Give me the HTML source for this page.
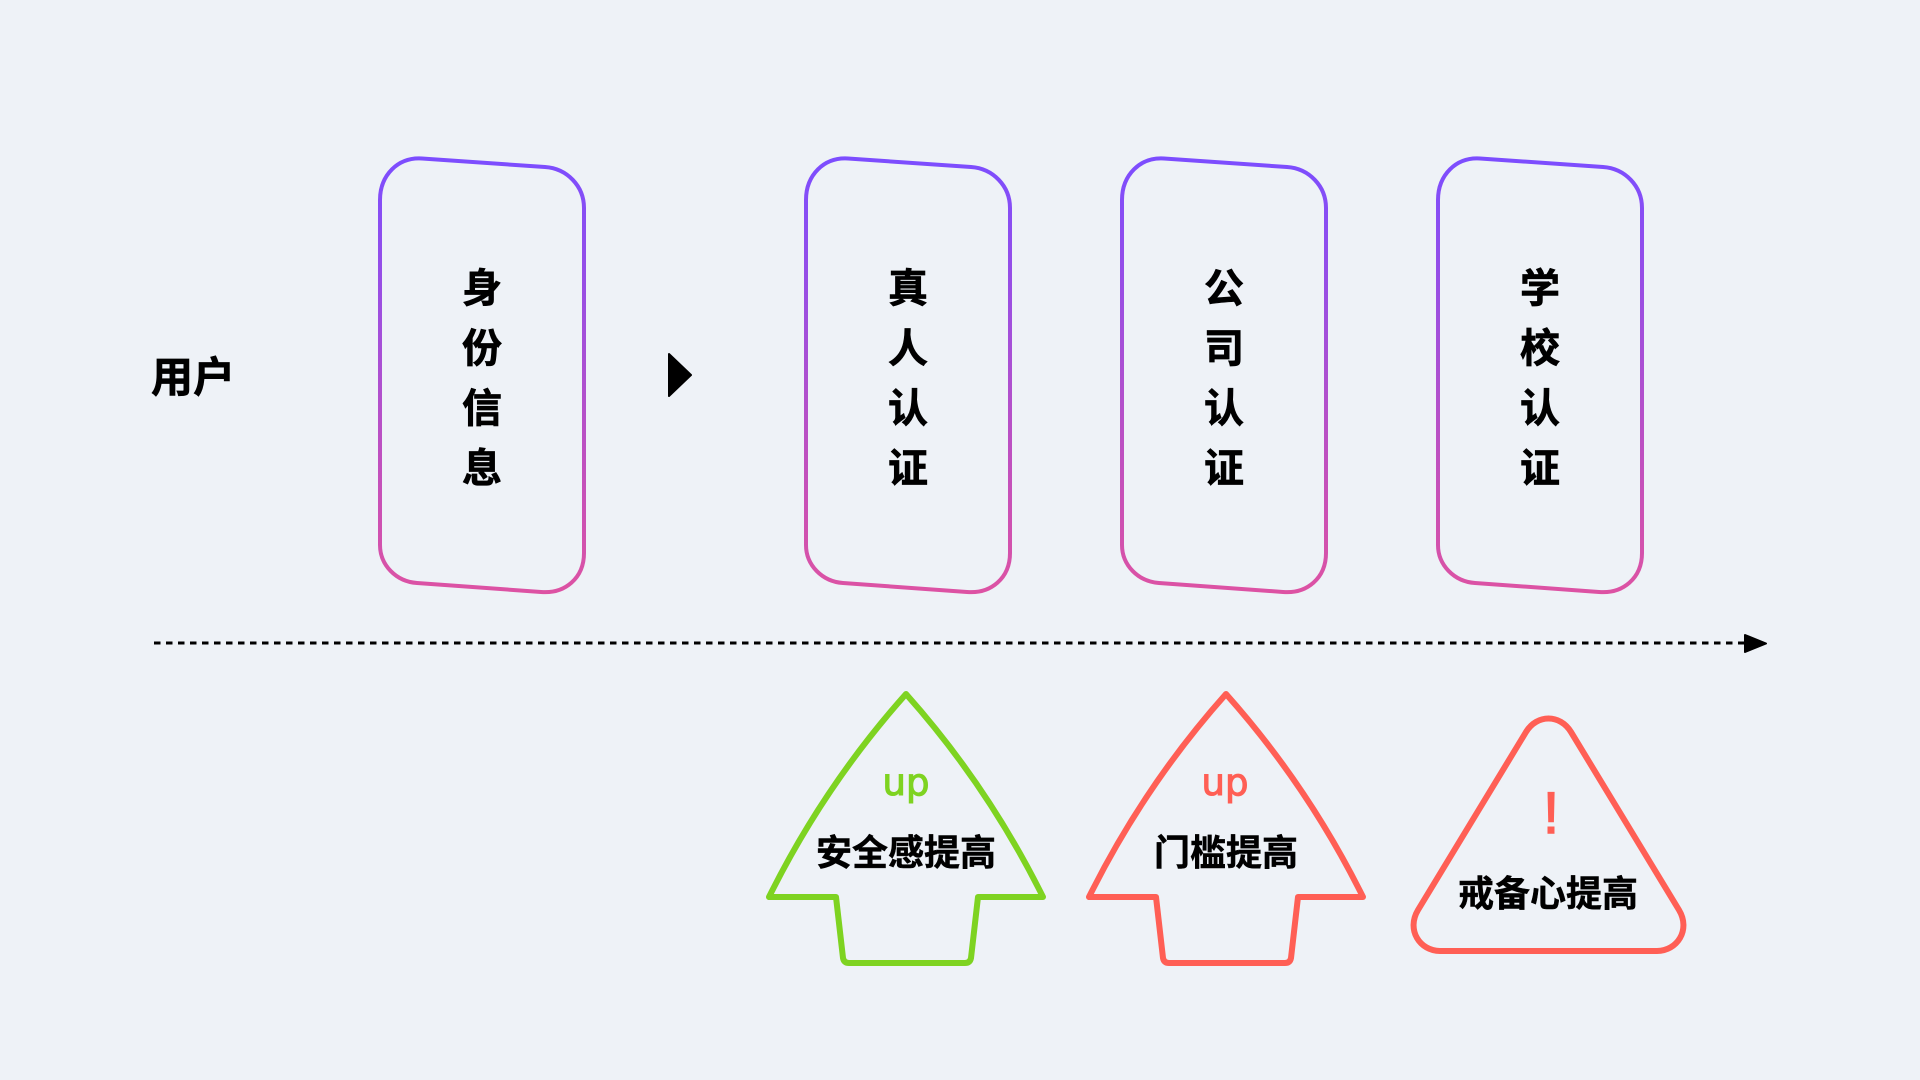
<!DOCTYPE html>
<html><head><meta charset="utf-8"><style>
html,body{margin:0;padding:0;width:1920px;height:1080px;overflow:hidden;background:#eef2f7}
svg{display:block}
text{font-family:"Liberation Sans","Noto Sans CJK SC",sans-serif;font-weight:700;fill:#000;text-anchor:middle}
.b{stroke:#000;stroke-width:.7px}
.u{font-family:"DejaVu Sans",sans-serif;font-weight:400;stroke-width:1.1px}
</style></head><body>
<svg width="1920" height="1080" viewBox="0 0 1920 1080" xmlns="http://www.w3.org/2000/svg">
<defs>
<linearGradient id="g" gradientUnits="userSpaceOnUse" x1="0" y1="158" x2="0" y2="593"><stop offset="0" stop-color="#7c4dff"/><stop offset="1" stop-color="#dd52a3"/></linearGradient>
<path id="card" d="M380 200C380 175 398 157 422 158.5L545 167C567 168.5 584 186 584 208L584 553C584 578 565 594 541 592L417 583C396 581.5 380 565 380 545Z" fill="none" stroke="url(#g)" stroke-width="4"/>
<path id="arrow" d="M906 694Q824 786 769 897L836 897L843 958Q844 963 849 963L965 963Q970 963 971 958L978 897L1043 897Q988 786 906 694Z" fill="none" stroke-width="6" stroke-linejoin="round"/>
</defs>
<use href="#card"/><use href="#card" x="426"/><use href="#card" x="742"/><use href="#card" x="1058"/>
<g font-size="40" class="b">
<text x="193" y="392" font-size="42">用户</text>
<text x="482" y="302">身</text><text x="482" y="362">份</text><text x="482" y="422">信</text><text x="482" y="482">息</text>
<text x="908" y="302">真</text><text x="908" y="362">人</text><text x="908" y="422">认</text><text x="908" y="482">证</text>
<text x="1224" y="302">公</text><text x="1224" y="362">司</text><text x="1224" y="422">认</text><text x="1224" y="482">证</text>
<text x="1540" y="302">学</text><text x="1540" y="362">校</text><text x="1540" y="422">认</text><text x="1540" y="482">证</text>
</g>
<path d="M669 354L691 375L669 396Z" fill="#000" stroke="#000" stroke-width="2" stroke-linejoin="round"/>
<line x1="154" y1="643" x2="1746" y2="643" stroke="#000" stroke-width="3" stroke-dasharray="6.5 5.5"/>
<path d="M1745 635L1766 643.5L1745 652Z" fill="#000" stroke="#000" stroke-width="2" stroke-linejoin="round"/>
<use href="#arrow" stroke="#7ed321"/>
<use href="#arrow" x="320" stroke="#ff5f55"/>
<path d="M1526 732C1537 714 1560 714 1571 732L1679 910C1691 930 1677 951 1657 951L1440 951C1420 951 1406 930 1418 910Z" fill="none" stroke="#ff5f55" stroke-width="6"/>
<text class="u" x="906" y="795" font-size="37" style="fill:#7ed321;stroke:#7ed321">up</text>
<text class="u" x="1225" y="795" font-size="37" style="fill:#ff5f55;stroke:#ff5f55">up</text>
<text x="1551" y="833" font-size="58" style="fill:#ff5f55;stroke:#ff5f55;stroke-width:1.5px;font-weight:400">!</text>
<g font-size="36" class="b" style="stroke-width:.5px">
<text x="906" y="865">安全感提高</text>
<text x="1226" y="865">门槛提高</text>
<text x="1548" y="906">戒备心提高</text>
</g>
</svg>
</body></html>
